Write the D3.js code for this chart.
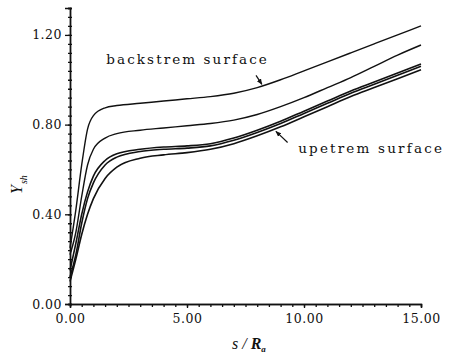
<!DOCTYPE html>
<html>
<head>
<meta charset="utf-8">
<script src="https://cdn.jsdelivr.net/npm/d3@7"></script>
<style>
  body { margin: 0; background: #fff; }
  text { font-family: "DejaVu Serif", "Liberation Serif", serif; fill: #111; }
</style>
</head>
<body>
<div class="canvas"></div>
<script>
// data
const sValues = [0, 0.25, 0.5, 0.75, 1, 1.5, 2, 3, 4, 5, 6, 7, 8, 9, 10, 11, 12, 13, 14, 15];
const curveA = [0.25, 0.42, 0.62, 0.78, 0.84, 0.875, 0.885, 0.895, 0.905, 0.915, 0.925, 0.94, 0.965, 1.0, 1.04, 1.08, 1.12, 1.16, 1.20, 1.24];
const curveB = [0.22, 0.32, 0.48, 0.62, 0.69, 0.74, 0.76, 0.775, 0.785, 0.795, 0.805, 0.82, 0.845, 0.88, 0.92, 0.965, 1.01, 1.06, 1.11, 1.155];
const curveC = [0.15, 0.27, 0.40, 0.50, 0.57, 0.64, 0.67, 0.69, 0.70, 0.705, 0.715, 0.74, 0.775, 0.815, 0.86, 0.905, 0.95, 0.99, 1.03, 1.07];
const curveD = [0.12, 0.22, 0.36, 0.47, 0.54, 0.62, 0.655, 0.68, 0.69, 0.695, 0.705, 0.73, 0.765, 0.805, 0.85, 0.895, 0.94, 0.98, 1.02, 1.06];
const curveE = [0.10, 0.20, 0.31, 0.40, 0.47, 0.56, 0.61, 0.65, 0.665, 0.675, 0.69, 0.715, 0.75, 0.79, 0.835, 0.88, 0.925, 0.965, 1.005, 1.045];

const xTicks = [0, 5, 10, 15];
const yTicks = [0, 0.4, 0.8, 1.2];

const svg = d3.select('.canvas')
  .append('svg')
  .attr('width', 451)
  .attr('height', 360);

// margins and dimensions
const margin = { top: 8, right: 30, bottom: 56, left: 70 };
const graphWidth = 451 - margin.left - margin.right;
const graphHeight = 360 - margin.top - margin.bottom;

const graph = svg.append('g')
  .attr('transform', `translate(${margin.left},${margin.top})`);

const x = d3.scaleLinear()
  .domain([0, 15])
  .range([0, graphWidth]);

const y = d3.scaleLinear()
  .domain([0, 1.32])
  .range([graphHeight, 0]);

// minor ticks
const xMinor = d3.axisBottom(x)
  .tickValues(d3.range(0, 15.01, 0.5))
  .tickSize(3)
  .tickFormat('');
const yMinorOut = d3.axisLeft(y)
  .tickValues(d3.range(0, 1.321, 0.04))
  .tickSize(2)
  .tickFormat('');
const yMinorIn = d3.axisLeft(y)
  .tickValues(d3.range(0, 1.321, 0.04))
  .tickSize(-2)
  .tickFormat('');

const xAxis = d3.axisBottom(x)
  .tickValues(xTicks)
  .tickSize(4)
  .tickPadding(6)
  .tickFormat(d3.format('.2f'));
const yAxis = d3.axisLeft(y)
  .tickValues(yTicks)
  .tickSize(5)
  .tickPadding(3)
  .tickFormat(d3.format('.2f'));

const xAxisGroup = graph.append('g')
  .attr('transform', `translate(0,${graphHeight})`);
xAxisGroup.append('g').call(xMinor);
xAxisGroup.append('g').call(xAxis);

const yAxisGroup = graph.append('g');
yAxisGroup.append('g').call(yMinorOut);
yAxisGroup.append('g').call(yMinorIn);
yAxisGroup.append('g').call(yAxis);

svg.selectAll('.domain, .tick line')
  .attr('stroke', '#111')
  .attr('stroke-width', 1.3);

svg.selectAll('.tick text')
  .style('font-family', '"DejaVu Serif", serif')
  .style('font-size', '12.5px')
  .style('letter-spacing', '0.5px')
  .attr('fill', '#111');

// curves
const line = d3.line()
  .x((d, i) => x(sValues[i]))
  .y(d => y(d))
  .curve(d3.curveMonotoneX);

[curveA, curveB, curveC, curveD, curveE].forEach((c, i) => {
  graph.append('path')
    .datum(c)
    .attr('d', line)
    .attr('fill', 'none')
    .attr('stroke', '#111')
    .attr('stroke-width', i < 2 ? 1.4 : 1.6);
});

// annotations
const marker = svg.append('defs').append('marker')
  .attr('id', 'arrow')
  .attr('viewBox', '0 0 10 10')
  .attr('refX', 9)
  .attr('refY', 5)
  .attr('markerWidth', 5)
  .attr('markerHeight', 5)
  .attr('orient', 'auto');
marker.append('path').attr('d', 'M0,1 L10,5 L0,9 Z').attr('fill', '#111');

graph.append('text')
  .attr('x', x(1.55))
  .attr('y', y(1.07))
  .style('font-size', '13.5px')
  .style('letter-spacing', '2.1px')
  .text('backstrem surface');

graph.append('line')
  .attr('x1', x(7.95)).attr('y1', y(0.975) - 10)
  .attr('x2', x(8.2)).attr('y2', y(0.975) - 1)
  .attr('stroke', '#111')
  .attr('stroke-width', 1.2)
  .attr('marker-end', 'url(#arrow)');

graph.append('text')
  .attr('x', x(9.75))
  .attr('y', y(0.675))
  .style('font-size', '13.5px')
  .style('letter-spacing', '2.2px')
  .text('upetrem surface');

graph.append('line')
  .attr('x1', x(9.3)).attr('y1', y(0.72))
  .attr('x2', x(8.8)).attr('y2', y(0.77))
  .attr('stroke', '#111')
  .attr('stroke-width', 1.2)
  .attr('marker-end', 'url(#arrow)');

// axis titles
const yTitle = svg.append('text')
  .attr('transform', 'translate(22,194) rotate(-90)')
  .style('font-family', '"Liberation Serif", serif')
  .style('font-size', '16px')
  .style('font-style', 'italic');
yTitle.append('tspan').text('Y');
yTitle.append('tspan')
  .attr('dy', 5)
  .attr('dx', 1)
  .style('font-size', '10px')
  .text('sh');

const xTitle = svg.append('text')
  .attr('x', 232)
  .attr('y', 349)
  .style('font-family', '"Liberation Serif", serif')
  .style('font-size', '16px')
  .style('font-style', 'italic');
xTitle.append('tspan').text('s / ');
xTitle.append('tspan').style('font-weight', 'bold').text('R');
xTitle.append('tspan')
  .attr('dy', 3)
  .style('font-size', '9px')
  .style('font-weight', 'bold')
  .text('a');
</script>
</body>
</html>
